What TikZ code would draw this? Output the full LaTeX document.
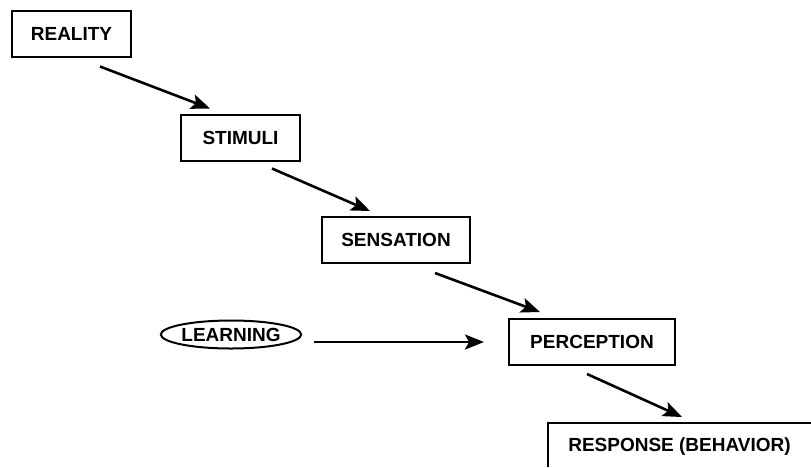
\documentclass[tikz,border=0pt]{standalone}
\usepackage{fontspec}
\setmainfont{Liberation Sans}
\usetikzlibrary{arrows.meta,shapes.geometric,calc}
\begin{document}
\begin{tikzpicture}[x=1pt,y=-1pt,
  lbl/.style={font=\fontsize{19}{22}\selectfont\bfseries},
  box/.style={lbl,draw,line width=2pt,inner sep=0pt,minimum height=46pt},
  oval/.style={lbl,draw,ellipse,line width=2pt,inner sep=0pt,minimum width=138pt,minimum height=28pt},
  arr/.style={line width=2.6pt,-{Stealth[length=19pt,width=15pt,inset=4pt]}}]
\useasboundingbox (0,0) rectangle (811,467);
\node[box,minimum width=119pt] (real) at (71.5,33.5) {REALITY};
\node[box,minimum width=119pt] (stim) at (240.5,137.5) {STIMULI};
\node[box,minimum width=148pt] (sens) at (396,240) {SENSATION};
\node[box,minimum width=166pt] (perc) at (592,342) {PERCEPTION};
\node[oval] (learn) at (231,334.5) {LEARNING};
\node[lbl] (resp) at (679.5,446.5) {RESPONSE (BEHAVIOR)};
\coordinate (rcorner) at (548,423);
\draw[line width=2pt] (rcorner |- 0,467) -- (rcorner) -- (rcorner -| 811,0);
\draw[arr] ($(real.south)+(28.5,9)$) -- ($(stim.north)+(-30.5,-5)$);
\draw[arr] ($(stim.south)+(31.5,7)$) -- ($(sens.north)+(-26,-5)$);
\draw[arr] ($(sens.south)+(39,9)$) -- ($(perc.north)+(-52,-6)$);
\draw[arr] ($(learn.east)+(12,7.5)$) -- ($(perc.west)+(-24,0)$);
\draw[arr] ($(perc.south)+(-5,8)$) -- ($(rcorner)+(134,-6)$);
\end{tikzpicture}
\end{document}
